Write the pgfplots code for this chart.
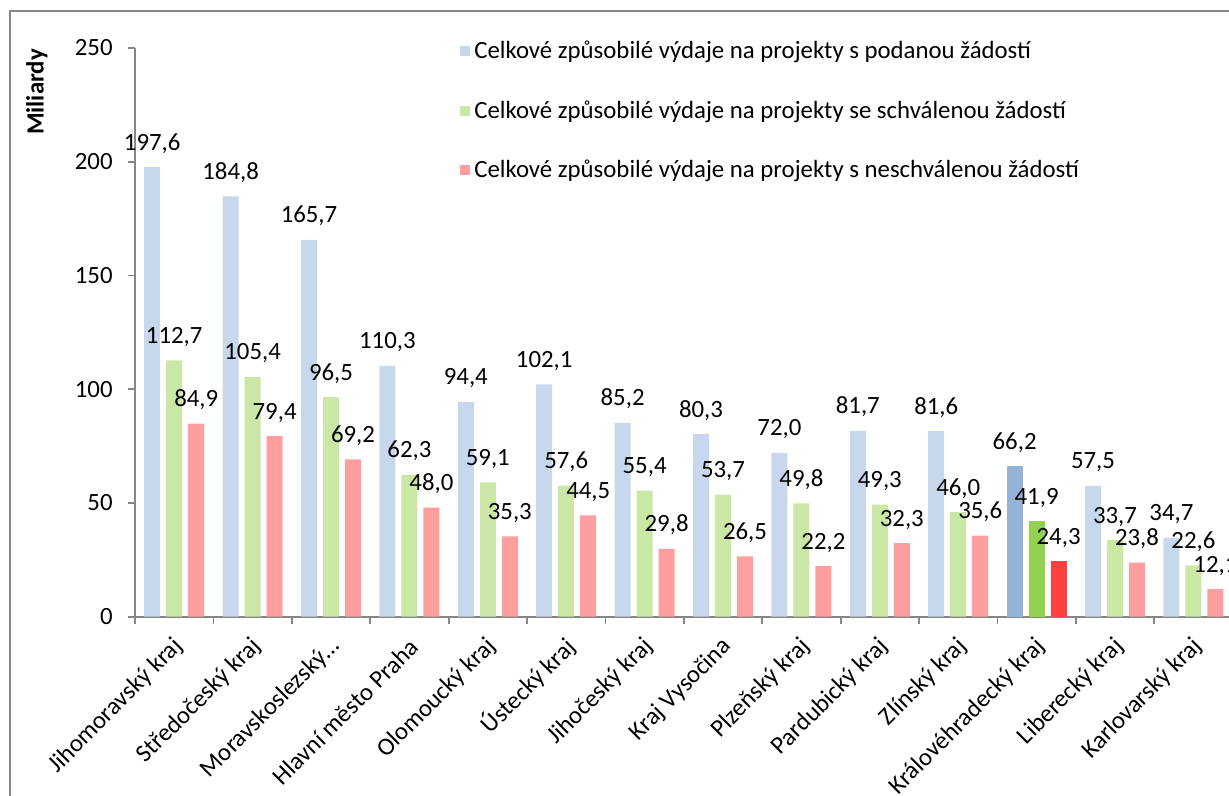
\documentclass[border=0pt]{standalone}
\usepackage{pgfplots}
\pgfplotsset{compat=1.18}
\usepackage{fontspec}
\setmainfont{Carlito}
\definecolor{lblue}{RGB}{200,216,236}
\definecolor{lgreen}{RGB}{203,231,166}
\definecolor{lred}{RGB}{255,158,158}
\definecolor{dblue}{RGB}{149,179,215}
\definecolor{dgreen}{RGB}{146,208,80}
\definecolor{dred}{RGB}{255,64,64}
\definecolor{axgray}{RGB}{134,134,134}
\begin{document}
\begin{tikzpicture}[font=\fontsize{12.4}{14.9}\selectfont]
\useasboundingbox (-67.5pt,-89.65pt) rectangle (547pt,308.35pt);
\clip (-67.5pt,-89.65pt) rectangle (547pt,308.35pt);
\draw[axgray, line width=0.9pt] (-62.5pt,-200pt) -- (-62.5pt,302.85pt) -- (700pt,302.85pt);
\begin{axis}[
  at={(0pt,0pt)}, anchor=south west,
  scale only axis, width=548.8pt, height=284.35pt,
  ybar=3pt, bar width=8pt,
  xmin=-0.5, xmax=13.5, ymin=0, ymax=250,
  ytick={0,50,...,250},
  xtick={0,...,13},
  xticklabels={Jihomoravský kraj,Středočeský kraj,Moravskoslezský…,Hlavní město Praha,Olomoucký kraj,Ústecký kraj,Jihočeský kraj,Kraj Vysočina,Plzeňský kraj,Pardubický kraj,Zlínský kraj,Královéhradecký kraj,Liberecký kraj,Karlovarský kraj},
  minor xtick={-0.5,0.5,...,13.5},
  axis lines*=left,
  axis line style={axgray, line width=0.9pt, -},
  major x tick style={draw=none},
  minor x tick style={axgray, line width=0.9pt},
  y tick style={axgray, line width=0.9pt},
  tick align=outside,
  major tick length=3.5pt, minor tick length=3.5pt,
  xticklabel style={inner sep=0pt, xshift=2.5pt, yshift=-9.5pt, rotate=45, anchor=east},
  yticklabel style={inner sep=0pt, xshift=-7.5pt},
  /pgf/number format/assume math mode=true,
  /pgf/number format/.cd, fixed, fixed zerofill, precision=1, use comma, 1000 sep={},
  /pgfplots/.cd,
  yticklabel={\pgfmathprintnumber[fixed, precision=0, fixed zerofill=false]{\tick}},
  ylabel={\bfseries Miliardy},
  ylabel style={at={(axis description cs:-0.0893,0.9225)}, anchor=center, rotate=0},
  nodes near coords,
  every node near coord/.append style={anchor=base, yshift=8.5pt, inner sep=0pt, text=black},
  legend style={at={(axis description cs:0.296,1.02)}, anchor=north west, draw=none, fill=none,
    row sep=15.5pt, inner sep=0pt, nodes={inner sep=2pt, anchor=west}},
  legend cell align=left,
  legend image code/.code={\fill[#1] (0pt,-2.5pt) rectangle (5pt,2.5pt);},
]
\addplot[fill=lblue, draw=none, bar shift=-11pt] coordinates {(0,197.6) (1,184.8) (2,165.7) (3,110.3) (4,94.4) (5,102.1) (6,85.2) (7,80.3) (8,72.0) (9,81.7) (10,81.6) (12,57.5) (13,34.7)};
\addplot[fill=lgreen, draw=none, bar shift=0pt] coordinates {(0,112.7) (1,105.4) (2,96.5) (3,62.3) (4,59.1) (5,57.6) (6,55.4) (7,53.7) (8,49.8) (9,49.3) (10,46.0) (12,33.7) (13,22.6)};
\addplot[fill=lred, draw=none, bar shift=11pt] coordinates {(0,84.9) (1,79.4) (2,69.2) (3,48.0) (4,35.3) (5,44.5) (6,29.8) (7,26.5) (8,22.2) (9,32.3) (10,35.6) (12,23.8) (13,12.1)};
\addplot[fill=dblue, draw=none, bar shift=-11pt, forget plot] coordinates {(11,66.2)};
\addplot[fill=dgreen, draw=none, bar shift=0pt, forget plot] coordinates {(11,41.9)};
\addplot[fill=dred, draw=none, bar shift=11pt, forget plot] coordinates {(11,24.3)};
\legend{Celkové způsobilé výdaje na projekty s podanou žádostí,Celkové způsobilé výdaje na projekty se schválenou žádostí,Celkové způsobilé výdaje na projekty s neschválenou žádostí}
\end{axis}
\end{tikzpicture}
\end{document}
